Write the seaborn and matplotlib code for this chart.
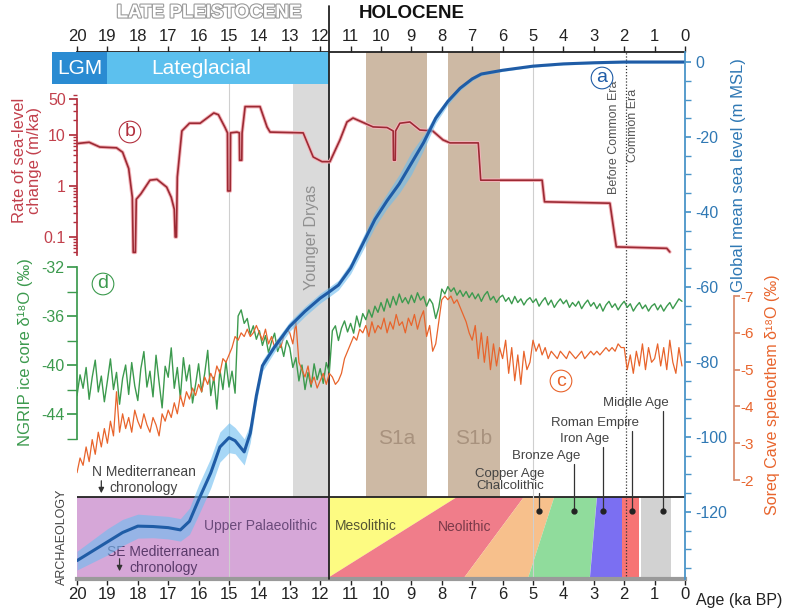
import matplotlib
matplotlib.use("Agg")
import matplotlib.pyplot as plt
import matplotlib.patheffects as pe
from matplotlib.ticker import FixedLocator, FixedFormatter, LogLocator, NullFormatter
import numpy as np
import seaborn as sns

# ── Data ──────────────────────────────────────────────────────────────
# (a) global mean sea level (m MSL) and its uncertainty half-width
sl_age = [20.0, 19.5, 19.0, 18.5, 18.0, 17.5, 17.0, 16.6, 16.3, 16.0, 15.6, 15.3,
          15.0, 14.8, 14.5, 14.3, 14.1, 13.9, 13.5, 13.0, 12.5, 12.0, 11.7, 11.4,
          11.0, 10.6, 10.2, 9.8, 9.4, 9.0, 8.6, 8.2, 7.8, 7.4, 7.0, 6.7, 6.0, 5.0,
          4.0, 3.0, 2.0, 1.0, 0.0]
sl_level = [-133, -130.5, -128, -125.5, -123.8, -123.9, -124.2, -124.8, -122.5, -116.8,
            -109.6, -102.7, -100.2, -101, -104, -99, -89, -81, -76, -70.5, -66.5, -63,
            -61.3, -59.5, -55, -48.5, -42, -37, -32.5, -27, -21.5, -15, -10.5, -7,
            -4.5, -3.2, -2.2, -1.1, -0.5, -0.2, 0, 0, 0]
sl_err = [2.5, 3.0, 3.5, 3.5, 3.2, 3.0, 3.0, 3.0, 3.5, 4.0, 4.0, 4.0, 4.0, 3.5, 3.5,
          2.5, 1.8, 1.5, 1.3, 1.3, 1.3, 1.3, 1.3, 1.3, 1.5, 1.8, 2.0, 2.0, 2.5, 3.0,
          2.0, 1.3, 0.9, 0.6, 0.5, 0.4, 0.3, 0.3, 0.3, 0.3, 0.3, 0.3, 0.3]

# (b) rate of sea-level change (m/ka)
rate_age = [20.0, 19.6, 19.25, 18.7, 18.5, 18.3, 18.18, 18.15, 18.08, 18.05, 17.9,
            17.6, 17.37, 17.05, 16.9, 16.8, 16.77, 16.73, 16.7, 16.55, 16.3, 15.95,
            15.5, 15.35, 15.13, 15.05, 15.04, 14.96, 14.95, 14.74, 14.66, 14.65,
            14.58, 14.57, 14.47, 13.98, 13.75, 13.65, 12.56, 12.23, 11.94, 11.68,
            11.35, 11.12, 10.92, 10.26, 9.8, 9.6, 9.59, 9.53, 9.52, 9.38, 9.05, 8.72,
            8.3, 7.96, 7.73, 6.8, 6.72, 4.7, 4.62, 2.47, 2.26, 0.6, 0.5]
rate_val = [6.8, 7.2, 5.8, 5.6, 4.6, 2.2, 0.6, 0.05, 0.05, 0.55, 0.7,
            1.3, 1.35, 0.95, 0.6, 0.35, 0.1, 0.1, 1.5, 12, 17, 17,
            27, 25, 14, 11, 0.8, 0.8, 11, 11.4, 11, 3.2,
            3.2, 11, 36, 36, 14.4, 11.4, 11, 3.7, 3.0, 3.0,
            8, 18, 21.5, 14.4, 14, 12, 3.2, 3.2, 12, 17, 18, 12.5,
            12, 8, 7, 7, 1.3, 1.3, 0.49, 0.46, 0.064, 0.06, 0.051]

# (c) Soreq Cave and (d) NGRIP d18O, sampled every 0.1 ka from 20.0 to 0.1 ka BP
proxy_age = np.round(np.arange(20.0, 0.05, -0.1), 1)
ngrip = [
    -42.5, -40.8, -41.9, -40.2, -42.8, -41.0, -39.6, -42.2, -40.9, -43.0,
    -41.3, -39.5, -42.0, -40.6, -43.2, -41.1, -40.0, -42.4, -39.8, -41.7,
    -42.9, -40.3, -38.9, -41.8, -40.5, -42.6, -39.2, -41.4, -43.5, -40.1,
    -41.0, -38.6, -41.9, -40.2, -42.7, -39.4, -41.3, -40.0, -43.1, -41.6,
    -39.9, -42.2, -40.7, -38.8, -42.5, -41.0, -43.6, -40.4, -42.0, -39.7,
    -41.8, -40.5, -42.3, -36.0, -35.5, -36.6, -36.2, -37.5, -36.8, -37.9,
    -37.2, -38.4, -37.6, -39.0, -38.1, -37.4, -38.9, -38.2, -39.3, -38.0,
    -38.6, -40.2, -39.4, -41.3, -40.0, -42.0, -40.6, -41.8, -39.9, -41.2,
    -40.3, -41.5, -39.8, -40.6, -37.2, -36.8, -38.0, -37.0, -36.4, -37.3,
    -36.6, -37.4, -36.0, -36.9, -35.8, -36.3, -35.5, -36.1, -35.2, -35.7,
    -34.9, -35.6, -34.6, -35.3, -34.4, -35.1, -34.2, -34.9, -34.5, -35.0,
    -34.3, -34.9, -34.1, -34.7, -34.4, -35.2, -34.6, -35.0, -36.2, -35.3,
    -33.8, -34.2, -33.6, -34.0, -33.7, -34.3, -33.9, -34.4, -34.0, -34.5,
    -34.1, -34.6, -34.2, -34.8, -34.3, -34.0, -34.7, -34.4, -34.9, -34.5,
    -34.3, -34.8, -34.5, -35.0, -34.4, -34.9, -34.6, -35.1, -34.7, -34.5,
    -34.9, -34.6, -35.2, -34.8, -34.5, -35.1, -34.7, -35.3, -34.9, -34.6,
    -35.0, -34.7, -35.3, -34.9, -35.2, -34.8, -35.4, -35.0, -34.7, -35.2,
    -34.9, -35.4, -35.0, -35.6, -35.1, -34.8, -35.3, -35.0, -35.5, -35.1,
    -34.8, -35.3, -35.0, -35.6, -35.2, -34.9, -35.4, -35.1, -35.6, -35.2,
    -35.0, -35.5, -35.1, -35.6, -35.2, -34.9, -35.4, -35.0, -34.6, -34.8,
]
soreq = [
    -2.2, -2.6, -2.4, -2.9, -2.5, -3.1, -2.7, -3.3, -2.9, -3.4,
    -3.0, -3.6, -3.2, -4.4, -3.3, -3.8, -3.4, -3.7, -3.3, -3.9,
    -3.6, -3.4, -3.8, -3.5, -3.3, -3.7, -3.5, -3.2, -3.8, -3.6,
    -3.9, -3.7, -4.1, -3.8, -4.3, -4.0, -4.4, -4.2, -4.5, -4.3,
    -4.6, -4.4, -4.8, -4.6, -4.9, -4.7, -5.1, -4.9, -5.3, -5.2,
    -5.4, -5.6, -5.9, -5.8, -6.0, -5.9, -6.1, -5.9, -6.0, -6.2,
    -6.0, -5.8, -6.1, -5.7, -5.9, -5.6, -5.8, -5.6, -5.9, -6.1,
    -6.0, -5.7, -6.3, -5.2, -5.0, -4.8, -5.1, -4.6, -4.8, -4.5,
    -4.7, -4.9, -4.6, -4.9, -4.8, -4.6, -4.7, -4.9, -5.3, -5.5,
    -5.7, -5.9, -5.8, -6.1, -6.0, -6.2, -5.9, -6.3, -6.0, -6.2,
    -6.1, -6.4, -6.0, -6.3, -6.1, -6.5, -6.2, -6.3, -6.0, -6.4,
    -6.2, -6.5, -6.1, -6.4, -6.6, -5.9, -6.2, -5.5, -5.7, -6.3,
    -6.9, -7.0, -6.9, -7.0, -6.8, -6.9, -6.7, -6.5, -6.3, -6.0,
    -5.8, -6.2, -5.3, -6.0, -5.2, -5.9, -5.0, -5.7, -5.1, -5.6,
    -5.3, -5.8, -4.9, -5.6, -4.7, -5.4, -4.6, -5.5, -5.0, -5.2,
    -5.8, -5.5, -5.7, -5.4, -5.6, -5.3, -5.5, -5.4, -5.3, -5.5,
    -5.4, -5.3, -5.5, -5.4, -5.3, -5.4, -5.5, -5.3, -5.4, -5.5,
    -5.4, -5.5, -5.4, -5.5, -5.6, -5.5, -5.6, -5.5, -5.7, -5.6,
    -5.6, -5.0, -5.4, -4.9, -5.5, -5.1, -5.7, -5.0, -5.6, -5.2,
    -5.3, -5.7, -5.1, -5.6, -5.0, -5.8, -5.2, -4.9, -5.6, -5.1,
]

# climate periods (ka BP)
lgm_span = (20.82, 19.0)
lateglacial_span = (19.0, 11.7)
holocene_start = 11.7
younger_dryas = (12.9, 11.7)
sapropels = {"S1a": (10.5, 8.5), "S1b": (7.8, 6.1)}
common_era = 1.95

# archaeology: (left boundary top, left bottom, right top, right bottom) in ka
cultures = ["Upper Palaeolithic", "Mesolithic", "Neolithic", "Copper Age",
            "Bronze Age", "Iron Age", "Roman Empire", "Middle Age"]
culture_bounds = [(20.0, 20.0, 11.7, 11.7), (11.7, 11.7, 7.5, 11.7),
                  (7.5, 11.7, 5.3, 7.25), (5.3, 7.25, 4.3, 5.15),
                  (4.3, 5.15, 2.9, 3.13), (2.9, 3.13, 2.07, 2.07),
                  (2.07, 2.07, 1.5, 1.5), (1.45, 1.45, 0.45, 0.45)]
culture_colors = ["#d6a7d8", "#fdfb82", "#f07d8a", "#f7c08c",
                  "#90dc9c", "#7b6ff2", "#f77474", "#d2d2d2"]
marker_labels = ["Copper Age\nChalcolithic", "Bronze Age", "Iron Age",
                 "Roman Empire", "Middle Age"]
marker_age = [4.8, 3.65, 2.7, 1.75, 0.72]

# ── Layout helpers (pixel positions on a 786x614 canvas) ──────────────
W, H = 786, 614
XL, XR = 77, 685


def rect(left, top, right, bottom):
    return [left / W, 1 - bottom / H, (right - left) / W, (bottom - top) / H]


def overlay(fig, box):
    ax = fig.add_axes(rect(*box))
    ax.patch.set_visible(False)
    ax.set_xlim(20, 0)
    ax.xaxis.set_visible(False)
    for s in ax.spines.values():
        s.set_visible(False)
    return ax


sns.set_theme(style="white")
plt.rcParams["font.family"] = ["Liberation Sans", "DejaVu Sans"]
plt.rcParams["axes.unicode_minus"] = False

fig = plt.figure(figsize=(W / 100, H / 100), dpi=100)


def ftext(x, y, s, **kw):
    fig.text(x / W, 1 - y / H, s, **kw)


# ── Base axes: age axis, bands, archaeology (y in pixel rows) ─────────
ax0 = fig.add_axes(rect(XL, 52, XR, 579))
ax0.set_xlim(20, 0)
ax0.set_ylim(579, 52)
ax0.set_yticks([])
ax0.set_xticks(range(0, 21))
ax0.tick_params(axis="x", top=True, labeltop=True, bottom=True, labelbottom=True,
                direction="out", length=4.5, width=1, pad=1, labelsize=12,
                colors="#222222")
for side in ("left", "right"):
    ax0.spines[side].set_visible(False)
ax0.spines["top"].set_color("#222222")
ax0.spines["top"].set_linewidth(1.3)
ax0.spines["bottom"].set_color("#9a9a9a")
ax0.spines["bottom"].set_linewidth(3)

# bands
ax0.fill_between(younger_dryas, 84, 497, color="#dadada", lw=0, zorder=0.5)
for name, (a, b) in sapropels.items():
    ax0.fill_between((a, b), 52, 497, color="#cdb9a4", lw=0, zorder=0.5)
    ax0.text((a + b) / 2, 438, name, ha="center", va="center", fontsize=15,
             color="#a8927e")

# LGM / Lateglacial bar
ax0.fill_between(lgm_span, 52, 84, color="#2a8bd2", lw=0, zorder=3, clip_on=False)
ax0.fill_between(lateglacial_span, 52, 84, color="#5cc0ee", lw=0, zorder=3,
                 clip_on=False)
ax0.text(sum(lgm_span) / 2, 69, "LGM", ha="center", va="center", fontsize=15,
         color="white", zorder=4)
ax0.text(15.9, 69, "Lateglacial", ha="center", va="center", fontsize=15,
         color="white", zorder=4)

# archaeology polygons
for name, (lt, lb, rt, rb), col in zip(cultures, culture_bounds, culture_colors):
    ax0.fill([lt, rt, rb, lb], [497, 497, 577, 577], color=col, lw=0, zorder=1)
ax0.text(13.95, 526, "Upper Palaeolithic", ha="center", va="center", fontsize=10,
         color="#6a4a7a", zorder=5)
ax0.text(10.5, 526, "Mesolithic", ha="center", va="center", fontsize=10,
         color="#555533", zorder=5)
ax0.text(7.25, 527, "Neolithic", ha="center", va="center", fontsize=10,
         color="#7a3a4a", zorder=5)
ax0.axhline(497, color="#222222", lw=1.3, zorder=2)

# reference lines
for age in (15, 5):
    ax0.axvline(age, color="#cfcfcf", lw=0.8, zorder=2)
ax0.axvline(common_era, color="#333333", lw=0.9, ls=(0, (1, 1.5)), zorder=2)
ax0.plot([holocene_start] * 2, [6, 579], color="#222222", lw=1.3, zorder=6,
         clip_on=False)

# period markers with leader lines
label_rows = [480, 456, 439, 423, 403]
label_x = [5.75, 4.55, 3.3, 2.95, 1.6]
for lab, age, row, lx in zip(marker_labels, marker_age, label_rows, label_x):
    top = row + (13 if "\n" in lab else 8)
    ax0.plot([age, age], [top, 511], color="#333333", lw=0.9, zorder=6)
    ax0.plot(age, 511, "o", ms=3.5, color="#222222", zorder=7)
    ax0.text(lx, row, lab, ha="center", va="center", fontsize=9.5,
             color="#444444", linespacing=1.0, zorder=7)

# chronology notes
ax0.text(17.8, 480, "N Mediterranean\nchronology", ha="center", va="center",
         fontsize=10, color="#444444", linespacing=1.1, zorder=7)
ax0.annotate("", xy=(19.2, 496), xytext=(19.2, 478),
             arrowprops=dict(arrowstyle="-|>", color="#333333", lw=0.9,
                             mutation_scale=8), zorder=7)
ax0.text(17.15, 560, "SE Mediterranean\nchronology", ha="center", va="center",
         fontsize=10, color="#5a3a6a", linespacing=1.1, zorder=7)
ax0.annotate("", xy=(18.6, 574), xytext=(18.6, 556),
             arrowprops=dict(arrowstyle="-|>", color="#333333", lw=0.9,
                             mutation_scale=8), zorder=7)

ax0.text(12.3, 237, "Younger Dryas", rotation=90, ha="center", va="center",
         fontsize=11.5, color="#909090", zorder=5)
ax0.text(2.35, 137, "Before Common Era", rotation=90, ha="center", va="center",
         fontsize=9, color="#555555", zorder=5)
ax0.text(1.7, 125, "Common Era", rotation=90, ha="center", va="center",
         fontsize=9, color="#555555", zorder=5)

# ── (b) rate of sea-level change ──────────────────────────────────────
ax_r = overlay(fig, (XL, 95, XR, 255))
red = "#b2303e"
ax_r.set_yscale("log")
sns.lineplot(x=rate_age, y=rate_val, ax=ax_r, color="#f4b4ba", lw=2.6,
             sort=False, estimator=None)
sns.lineplot(x=rate_age, y=rate_val, ax=ax_r, color="#9c2a34", lw=1.2,
             sort=False, estimator=None)
ax_r.set_xlim(20, 0)
ax_r.set_ylim(0.0444, 60.8)
ax_r.spines["left"].set_visible(True)
ax_r.spines["left"].set_color(red)
ax_r.spines["left"].set_bounds(0.045, 50)
ax_r.yaxis.set_major_locator(FixedLocator([0.1, 1, 10, 50]))
ax_r.yaxis.set_major_formatter(FixedFormatter(["0.1", "1", "10", "50"]))
ax_r.yaxis.set_minor_locator(LogLocator(base=10, subs=np.arange(2, 10)))
ax_r.yaxis.set_minor_formatter(NullFormatter())
ax_r.tick_params(axis="y", which="major", left=True, length=6, color=red,
                 labelcolor="#c2404c", labelsize=11.5, pad=2)
ax_r.tick_params(axis="y", which="minor", left=True, length=3, color=red)
ax_r.set_ylabel("")

# ── (d) NGRIP ─────────────────────────────────────────────────────────
ax_n = overlay(fig, (XL, 255, XR, 440))
green = "#3c9a4e"
sns.lineplot(x=proxy_age, y=ngrip, ax=ax_n, color=green, lw=1.0,
             sort=False, estimator=None)
ax_n.set_xlim(20, 0)
ax_n.set_ylim(-46.12, -31.02)
ax_n.spines["left"].set_visible(True)
ax_n.spines["left"].set_color(green)
ax_n.spines["left"].set_bounds(-46, -32)
ax_n.set_yticks([-44, -40, -36, -32])
ax_n.set_yticks([-46, -42, -38, -34], minor=True)
ax_n.tick_params(axis="y", which="both", left=True, length=7, color=green,
                 labelcolor=green, labelsize=11.5, pad=2)
ax_n.set_ylabel("")

# ── (c) Soreq Cave ────────────────────────────────────────────────────
ax_s = overlay(fig, (XL, 285, XR, 490))
orange = "#e8642c"
sns.lineplot(x=proxy_age, y=soreq, ax=ax_s, color=orange, lw=0.9,
             sort=False, estimator=None)
ax_s.set_xlim(20, 0)
ax_s.set_ylim(-1.73, -7.30)
sp = ax_s.spines["right"]
sp.set_visible(True)
sp.set_position(("outward", 35))
sp.set_color("#d98a6a")
sp.set_bounds(-7, -2)
ax_s.yaxis.tick_right()
ax_s.set_yticks([-7, -6, -5, -4, -3, -2])
ax_s.tick_params(axis="y", right=True, length=4, color="#d98a6a",
                 labelcolor=orange, labelsize=11, pad=1)
ax_s.set_ylabel("")

# ── (a) global mean sea level ─────────────────────────────────────────
ax_sl = overlay(fig, (XL, 52, XR, 579))
blue = "#1f5ca6"
lo = np.array(sl_level) - np.array(sl_err)
hi = np.array(sl_level) + np.array(sl_err)
ax_sl.fill_between(sl_age, lo, hi, color="#6cbdf0", alpha=0.6, lw=0)
sns.lineplot(x=sl_age, y=sl_level, ax=ax_sl, color=blue, lw=2.2,
             sort=False, estimator=None)
ax_sl.set_xlim(20, 0)
ax_sl.set_ylim(-137.9, 2.67)
ax_sl.spines["right"].set_visible(True)
ax_sl.spines["right"].set_color("#4a94c8")
ax_sl.spines["right"].set_linewidth(1.3)
ax_sl.yaxis.tick_right()
ax_sl.set_yticks(range(-120, 1, 20))
ax_sl.set_yticks(range(-135, 1, 5), minor=True)
ax_sl.tick_params(axis="y", which="both", right=True, length=4.5, color="#4a94c8",
                  labelcolor="#2f78b4", labelsize=11.5, pad=3)
ax_sl.set_ylabel("")

# ── Circled panel letters ─────────────────────────────────────────────
for letter, (x, y), col in zip("abcd", [(602, 78), (130, 132), (561, 381), (103, 284)],
                               [blue, red, orange, green]):
    ftext(x, y, letter, ha="center", va="center", fontsize=14, color=col,
          bbox=dict(boxstyle="circle,pad=0.12", fc="white", ec=col, lw=0.8))

# ── Headings and axis titles ──────────────────────────────────────────
ftext(209, 13, "LATE PLEISTOCENE", ha="center", va="center", fontsize=13.5,
      fontweight="bold", color="white",
      path_effects=[pe.withStroke(linewidth=1.6, foreground="#9a9a9a")])
ftext(412, 13, "HOLOCENE", ha="center", va="center", fontsize=13.5,
      fontweight="bold", color="#111111")
ftext(696, 600, "Age (ka BP)", ha="left", va="center", fontsize=11.5,
      color="#222222")
ftext(738, 175, "Global mean sea level (m MSL)", rotation=90, ha="center",
      va="center", fontsize=12, color="#2f78b4")
ftext(772, 395, "Soreq Cave speleothem δ¹⁸O (‰)", rotation=90, ha="center",
      va="center", fontsize=11.5, color=orange)
ftext(27, 160, "Rate of sea-level\nchange (m/ka)", rotation=90, ha="center",
      va="center", fontsize=12, color="#c2404c", linespacing=1.0)
ftext(25, 352, "NGRIP ice core δ¹⁸O (‰)", rotation=90, ha="center",
      va="center", fontsize=12, color=green)
ftext(62, 537, "ARCHAEOLOGY", rotation=90, ha="center", va="center",
      fontsize=9, color="#444444")

fig.savefig("out.png", dpi=100)
